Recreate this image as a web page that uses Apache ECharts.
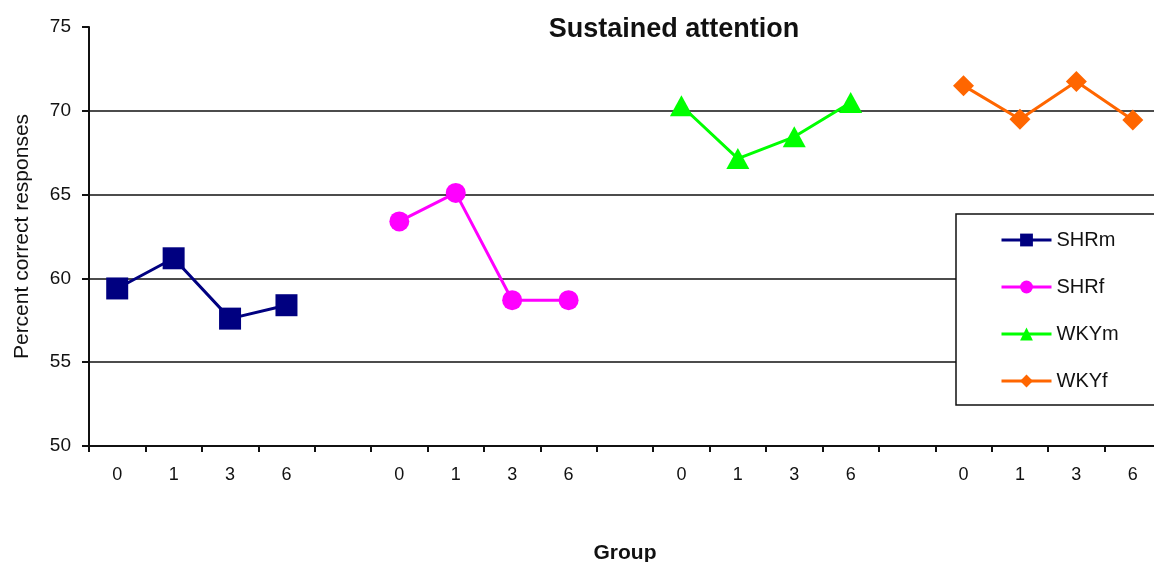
<!DOCTYPE html>
<html>
<head>
<meta charset="utf-8">
<script src="https://cdn.jsdelivr.net/npm/echarts@6/dist/echarts.min.js"></script>
<style>
  html, body { margin: 0; padding: 0; background: #fff; }
  #chart { width: 1154px; height: 562px; }
</style>
</head>
<body>
<div id="chart"></div>
<script>
// Four groups of follow-up times, separated by an empty slot
const categories = ['0','1','3','6','', '0','1','3','6','', '0','1','3','6','', '0','1','3','6'];
const seriesNames = ['SHRm', 'SHRf', 'WKYm', 'WKYf'];
const shrm = [59.4, 61.2, 57.6, 58.4];
const shrf = [63.4, 65.1, 58.7, 58.7];
const wkym = [70.3, 67.15, 68.45, 70.5];
const wkyf = [71.5, 69.5, 71.75, 69.45];
const yTicks = [50, 55, 60, 65, 70, 75];

const groups = [shrm, shrf, wkym, wkyf];
const colors = ['#000080', '#ff00ff', '#00ff00', '#ff6600'];
const symbols = ['rect', 'circle', 'triangle', 'diamond'];
const symbolSizes = [22, 20, [23, 21], 21];

// place each group's values in its own block of the category axis
function placeGroup(values, g) {
  const out = categories.map(() => null);
  values.forEach((v, i) => { out[g * 5 + i] = v; });
  return out;
}

const font = 'Liberation Sans, Arial, sans-serif';

const chart = echarts.init(document.getElementById('chart'));
chart.setOption({
  animation: false,
  backgroundColor: '#fff',
  title: {
    text: 'Sustained attention',
    left: 669, top: 11, textAlign: 'center',
    textStyle: { fontFamily: font, fontSize: 27, fontWeight: 'bold', color: '#111' }
  },
  grid: { left: 89, top: 27, right: -7, bottom: 116, containLabel: false, outerBoundsMode: 'none' },
  legend: {
    orient: 'vertical',
    left: 956, top: 214,
    padding: [16, 80, 14, 44],
    itemGap: 27,
    itemWidth: 50, itemHeight: 16,
    backgroundColor: '#fff',
    borderColor: '#111', borderWidth: 1.5,
    lineStyle: { width: 3 },
    textStyle: { fontFamily: font, fontSize: 20, color: '#111' },
    data: seriesNames
  },
  xAxis: {
    type: 'category',
    data: categories,
    boundaryGap: true,
    name: 'Group',
    nameLocation: 'middle',
    nameGap: 97,
    nameTextStyle: { fontFamily: font, fontSize: 21, fontWeight: 'bold', color: '#111' },
    axisLine: { lineStyle: { color: '#111', width: 2 } },
    axisTick: { show: true, length: 6, alignWithLabel: false, interval: 0, lineStyle: { color: '#111', width: 2 } },
    axisLabel: { interval: 0, margin: 20, fontFamily: font, fontSize: 18, color: '#111' },
    splitLine: { show: false }
  },
  yAxis: {
    type: 'value',
    min: yTicks[0], max: yTicks[yTicks.length - 1], interval: 5,
    name: 'Percent correct responses',
    nameLocation: 'middle',
    nameGap: 56,
    nameTextStyle: { fontFamily: font, fontSize: 21, color: '#111' },
    axisLine: { show: true, lineStyle: { color: '#111', width: 2 } },
    axisTick: { show: true, inside: false, length: 7, lineStyle: { color: '#111', width: 2 } },
    axisLabel: { margin: 18, fontFamily: font, fontSize: 19, color: '#111' },
    splitLine: { show: true, showMaxLine: false, showMinLine: false, lineStyle: { color: '#111', width: 1.6 } }
  },
  series: groups.map((vals, g) => ({
    name: seriesNames[g],
    type: 'line',
    data: placeGroup(vals, g),
    connectNulls: false,
    symbol: symbols[g],
    symbolSize: symbolSizes[g],
    showAllSymbol: true,
    color: colors[g],
    lineStyle: { color: colors[g], width: 3 },
    itemStyle: { color: colors[g], borderWidth: 0 },
    z: 3
  }))
});
</script>
</body>
</html>
